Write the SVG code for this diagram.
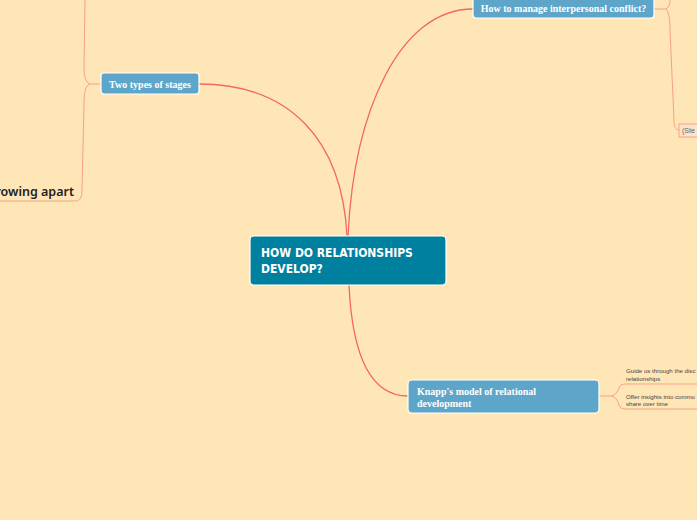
<svg xmlns="http://www.w3.org/2000/svg" width="697" height="520" viewBox="0 0 697 520">
<style>
.main{fill:none;stroke:#f4675c;stroke-width:1.3}
.sub{fill:none;stroke:#f7a085;stroke-width:1}
.topic{fill:#5ea6c9;stroke:#ffffff;stroke-width:1.2}
.tt{font-family:"Liberation Serif",serif;font-weight:bold;font-size:10px;fill:#ffffff}
.small{font-family:"Liberation Sans",sans-serif;font-size:6.1px;fill:#444444}
</style>
<rect width="697" height="520" fill="#ffe6b7"/>
<g id="connectors">
<path class="main" d="M347,236 C342,140 290,84 199,84"/>
<path class="main" d="M348,236 C354,110 400,9 473,9"/>
<path class="main" d="M349,285 C352,350 368,396 408,396"/>
<path class="sub" d="M101,84 L90,84 C85,82 84,75 84,65 L85,0"/>
<path class="sub" d="M90,84 C85,86 84,93 84,105 L82,190 C82,197 80,201 76,201 L0,201"/>
<path class="sub" d="M654,9 L666,9 C669,7 670,4 670,0"/>
<path class="sub" d="M666,9 C669,12 670,20 670,30 L674,120 C674,127 676,130 679,130"/>
<path class="sub" d="M599,396 L612,396 C617,394 618,390 619,388 C620,385 622,384 626,384 L697,384"/>
<path class="sub" d="M612,396 C617,398 618,402 619,405 C620,408 622,409 626,409 L697,409"/>
</g>
<g id="central">
<rect x="250" y="236" width="196" height="49" rx="4" fill="#00809f" stroke="#ffffff" stroke-width="1.2"/>
<text x="261" y="257" font-family="DejaVu Sans Condensed, DejaVu Sans, sans-serif" font-weight="bold" font-size="12" fill="#ffffff">HOW DO RELATIONSHIPS</text>
<text x="261" y="273" font-family="DejaVu Sans Condensed, DejaVu Sans, sans-serif" font-weight="bold" font-size="12" fill="#ffffff">DEVELOP?</text>
</g>
<g id="two-types">
<rect class="topic" x="101" y="73" width="98" height="21" rx="3"/>
<text class="tt" x="150" y="87.5" text-anchor="middle">Two types of stages</text>
</g>
<g id="growing-apart">
<text x="74" y="196" text-anchor="end" font-family="Noto Sans, sans-serif" font-weight="600" font-size="12.5" fill="#222222">Growing apart</text>
</g>
<g id="manage-conflict">
<rect class="topic" x="473" y="-4" width="181" height="22" rx="3"/>
<text class="tt" x="563.5" y="12" text-anchor="middle">How to manage interpersonal conflict?</text>
</g>
<g id="ste">
<rect x="679" y="124" width="30" height="13" fill="#fde3c8" stroke="#f7a085" stroke-width="1"/>
<text x="682" y="133" font-family="Liberation Sans, sans-serif" font-size="7" fill="#666666">(Ste</text>
</g>
<g id="knapp">
<rect class="topic" x="408" y="380" width="191" height="33" rx="4"/>
<text class="tt" x="417" y="394.5">Knapp's model of relational</text>
<text class="tt" x="417" y="406.5">development</text>
</g>
<g id="guide">
<text class="small" x="626" y="373">Guide us through the disc</text>
<text class="small" x="626" y="380.5">relationships</text>
</g>
<g id="offer">
<text class="small" x="626" y="398.5">Offer insights into commo</text>
<text class="small" x="626" y="406">share over time</text>
</g>
</svg>
